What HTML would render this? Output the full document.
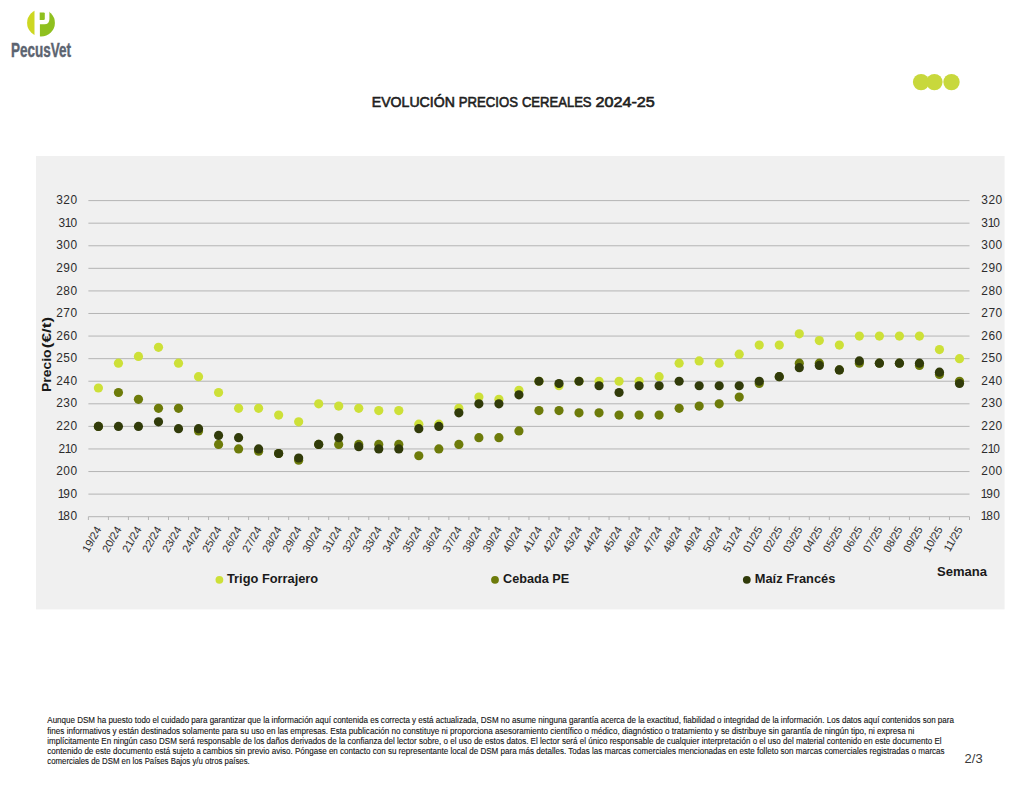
<!DOCTYPE html>
<html lang="es"><head><meta charset="utf-8"><title>Evolución precios cereales 2024-25</title>
<style>
html,body{margin:0;padding:0;background:#fff;}
body{width:1024px;height:791px;overflow:hidden;font-family:"Liberation Sans",sans-serif;}
svg{display:block;font-family:"Liberation Sans",sans-serif;}
</style></head><body>
<svg width="1024" height="791" viewBox="0 0 1024 791">
<rect width="1024" height="791" fill="#ffffff"/>
<g id="logo">
<clipPath id="lc"><ellipse cx="41" cy="22.9" rx="13.9" ry="13.55"/></clipPath>
<g clip-path="url(#lc)">
<rect x="26" y="8" width="8.7" height="30" fill="#cdd722"/>
<rect x="39.7" y="8" width="17" height="30" fill="#8fc01f"/>
</g>
<path d="M34.7 7 H45.2 Q49.4 7 49.4 12.5 V19 Q49.4 24.3 44.4 24.3 H39.7 V38 H34.7 Z" fill="#ffffff"/>
<path d="M39.7 12.4 H43.6 Q44.8 12.4 44.8 13.6 V18.7 Q44.8 19.9 43.6 19.9 H39.7 Z" fill="#8fc01f"/>
<text x="11" y="56.9" font-size="20.6" font-weight="bold" fill="#5c6470" stroke="#5c6470" stroke-width="0.45" textLength="60" lengthAdjust="spacingAndGlyphs">PecusVet</text>
</g>
<g fill="#c8d83c"><circle cx="921.1" cy="82.1" r="8.2"/><circle cx="934.4" cy="82.1" r="8.2"/><circle cx="951.5" cy="82.1" r="8.2"/></g>
<g font-size="14.2" fill="#1f1f1f" stroke="#1f1f1f" stroke-width="0.6">
<text x="371.8" y="106.8" textLength="83.1" lengthAdjust="spacingAndGlyphs">EVOLUCIÓN</text>
<text x="458.8" y="106.8" textLength="59.1" lengthAdjust="spacingAndGlyphs">PRECIOS</text>
<text x="521.9" y="106.8" textLength="69.7" lengthAdjust="spacingAndGlyphs">CEREALES</text>
<text x="595.5" y="106.8" textLength="59.3" lengthAdjust="spacingAndGlyphs">2024-25</text>
</g>
<rect x="36.0" y="156.0" width="968.6" height="453.4" fill="#f0f0f0"/>
<g stroke="#aeaeae" stroke-width="0.9" fill="none">
<line x1="88.4" y1="516.70" x2="969.5" y2="516.70"/>
<line x1="88.4" y1="494.12" x2="969.5" y2="494.12"/>
<line x1="88.4" y1="471.54" x2="969.5" y2="471.54"/>
<line x1="88.4" y1="448.96" x2="969.5" y2="448.96"/>
<line x1="88.4" y1="426.39" x2="969.5" y2="426.39"/>
<line x1="88.4" y1="403.81" x2="969.5" y2="403.81"/>
<line x1="88.4" y1="381.23" x2="969.5" y2="381.23"/>
<line x1="88.4" y1="358.65" x2="969.5" y2="358.65"/>
<line x1="88.4" y1="336.07" x2="969.5" y2="336.07"/>
<line x1="88.4" y1="313.49" x2="969.5" y2="313.49"/>
<line x1="88.4" y1="290.91" x2="969.5" y2="290.91"/>
<line x1="88.4" y1="268.34" x2="969.5" y2="268.34"/>
<line x1="88.4" y1="245.76" x2="969.5" y2="245.76"/>
<line x1="88.4" y1="223.18" x2="969.5" y2="223.18"/>
<line x1="88.4" y1="200.60" x2="969.5" y2="200.60"/>
<line x1="88.40" y1="516.70" x2="88.40" y2="520.00"/>
<line x1="108.43" y1="516.70" x2="108.43" y2="520.00"/>
<line x1="128.45" y1="516.70" x2="128.45" y2="520.00"/>
<line x1="148.48" y1="516.70" x2="148.48" y2="520.00"/>
<line x1="168.50" y1="516.70" x2="168.50" y2="520.00"/>
<line x1="188.53" y1="516.70" x2="188.53" y2="520.00"/>
<line x1="208.55" y1="516.70" x2="208.55" y2="520.00"/>
<line x1="228.58" y1="516.70" x2="228.58" y2="520.00"/>
<line x1="248.60" y1="516.70" x2="248.60" y2="520.00"/>
<line x1="268.62" y1="516.70" x2="268.62" y2="520.00"/>
<line x1="288.65" y1="516.70" x2="288.65" y2="520.00"/>
<line x1="308.68" y1="516.70" x2="308.68" y2="520.00"/>
<line x1="328.70" y1="516.70" x2="328.70" y2="520.00"/>
<line x1="348.73" y1="516.70" x2="348.73" y2="520.00"/>
<line x1="368.75" y1="516.70" x2="368.75" y2="520.00"/>
<line x1="388.78" y1="516.70" x2="388.78" y2="520.00"/>
<line x1="408.80" y1="516.70" x2="408.80" y2="520.00"/>
<line x1="428.83" y1="516.70" x2="428.83" y2="520.00"/>
<line x1="448.85" y1="516.70" x2="448.85" y2="520.00"/>
<line x1="468.88" y1="516.70" x2="468.88" y2="520.00"/>
<line x1="488.90" y1="516.70" x2="488.90" y2="520.00"/>
<line x1="508.93" y1="516.70" x2="508.93" y2="520.00"/>
<line x1="528.95" y1="516.70" x2="528.95" y2="520.00"/>
<line x1="548.98" y1="516.70" x2="548.98" y2="520.00"/>
<line x1="569.00" y1="516.70" x2="569.00" y2="520.00"/>
<line x1="589.03" y1="516.70" x2="589.03" y2="520.00"/>
<line x1="609.05" y1="516.70" x2="609.05" y2="520.00"/>
<line x1="629.08" y1="516.70" x2="629.08" y2="520.00"/>
<line x1="649.10" y1="516.70" x2="649.10" y2="520.00"/>
<line x1="669.12" y1="516.70" x2="669.12" y2="520.00"/>
<line x1="689.15" y1="516.70" x2="689.15" y2="520.00"/>
<line x1="709.18" y1="516.70" x2="709.18" y2="520.00"/>
<line x1="729.20" y1="516.70" x2="729.20" y2="520.00"/>
<line x1="749.23" y1="516.70" x2="749.23" y2="520.00"/>
<line x1="769.25" y1="516.70" x2="769.25" y2="520.00"/>
<line x1="789.28" y1="516.70" x2="789.28" y2="520.00"/>
<line x1="809.30" y1="516.70" x2="809.30" y2="520.00"/>
<line x1="829.33" y1="516.70" x2="829.33" y2="520.00"/>
<line x1="849.35" y1="516.70" x2="849.35" y2="520.00"/>
<line x1="869.38" y1="516.70" x2="869.38" y2="520.00"/>
<line x1="889.40" y1="516.70" x2="889.40" y2="520.00"/>
<line x1="909.43" y1="516.70" x2="909.43" y2="520.00"/>
<line x1="929.45" y1="516.70" x2="929.45" y2="520.00"/>
<line x1="949.48" y1="516.70" x2="949.48" y2="520.00"/>
<line x1="969.50" y1="516.70" x2="969.50" y2="520.00"/>
</g>
<g font-size="11.9" fill="#2c2c2c">
<text x="57.73 63.34 70.44" y="520.35">180</text>
<text x="980.63 986.24 993.34" y="520.35">180</text>
<text x="57.73 63.34 70.44" y="497.77">190</text>
<text x="980.63 986.24 993.34" y="497.77">190</text>
<text x="56.24 63.34 70.44" y="475.19">200</text>
<text x="981.34 988.44 995.54" y="475.19">200</text>
<text x="58.44 64.83 70.44" y="452.61">210</text>
<text x="981.34 987.73 993.34" y="452.61">210</text>
<text x="56.24 63.34 70.44" y="430.04">220</text>
<text x="981.34 988.44 995.54" y="430.04">220</text>
<text x="56.24 63.34 70.44" y="407.46">230</text>
<text x="981.34 988.44 995.54" y="407.46">230</text>
<text x="56.24 63.34 70.44" y="384.88">240</text>
<text x="981.34 988.44 995.54" y="384.88">240</text>
<text x="56.24 63.34 70.44" y="362.30">250</text>
<text x="981.34 988.44 995.54" y="362.30">250</text>
<text x="56.24 63.34 70.44" y="339.72">260</text>
<text x="981.34 988.44 995.54" y="339.72">260</text>
<text x="56.24 63.34 70.44" y="317.14">270</text>
<text x="981.34 988.44 995.54" y="317.14">270</text>
<text x="56.24 63.34 70.44" y="294.56">280</text>
<text x="981.34 988.44 995.54" y="294.56">280</text>
<text x="56.24 63.34 70.44" y="271.99">290</text>
<text x="981.34 988.44 995.54" y="271.99">290</text>
<text x="56.24 63.34 70.44" y="249.41">300</text>
<text x="981.34 988.44 995.54" y="249.41">300</text>
<text x="58.44 64.83 70.44" y="226.83">310</text>
<text x="981.34 987.73 993.34" y="226.83">310</text>
<text x="56.24 63.34 70.44" y="204.25">320</text>
<text x="981.34 988.44 995.54" y="204.25">320</text>
</g>
<g font-size="11.0" fill="#2c2c2c" text-anchor="end">
<text transform="translate(101.91,529.30) rotate(-60)">19/24</text>
<text transform="translate(121.94,529.30) rotate(-60)">20/24</text>
<text transform="translate(141.96,529.30) rotate(-60)">21/24</text>
<text transform="translate(161.99,529.30) rotate(-60)">22/24</text>
<text transform="translate(182.01,529.30) rotate(-60)">23/24</text>
<text transform="translate(202.04,529.30) rotate(-60)">24/24</text>
<text transform="translate(222.06,529.30) rotate(-60)">25/24</text>
<text transform="translate(242.09,529.30) rotate(-60)">26/24</text>
<text transform="translate(262.11,529.30) rotate(-60)">27/24</text>
<text transform="translate(282.14,529.30) rotate(-60)">28/24</text>
<text transform="translate(302.16,529.30) rotate(-60)">29/24</text>
<text transform="translate(322.19,529.30) rotate(-60)">30/24</text>
<text transform="translate(342.21,529.30) rotate(-60)">31/24</text>
<text transform="translate(362.24,529.30) rotate(-60)">32/24</text>
<text transform="translate(382.26,529.30) rotate(-60)">33/24</text>
<text transform="translate(402.29,529.30) rotate(-60)">34/24</text>
<text transform="translate(422.31,529.30) rotate(-60)">35/24</text>
<text transform="translate(442.34,529.30) rotate(-60)">36/24</text>
<text transform="translate(462.36,529.30) rotate(-60)">37/24</text>
<text transform="translate(482.39,529.30) rotate(-60)">38/24</text>
<text transform="translate(502.41,529.30) rotate(-60)">39/24</text>
<text transform="translate(522.44,529.30) rotate(-60)">40/24</text>
<text transform="translate(542.46,529.30) rotate(-60)">41/24</text>
<text transform="translate(562.49,529.30) rotate(-60)">42/24</text>
<text transform="translate(582.51,529.30) rotate(-60)">43/24</text>
<text transform="translate(602.54,529.30) rotate(-60)">44/24</text>
<text transform="translate(622.56,529.30) rotate(-60)">45/24</text>
<text transform="translate(642.59,529.30) rotate(-60)">46/24</text>
<text transform="translate(662.61,529.30) rotate(-60)">47/24</text>
<text transform="translate(682.64,529.30) rotate(-60)">48/24</text>
<text transform="translate(702.66,529.30) rotate(-60)">49/24</text>
<text transform="translate(722.69,529.30) rotate(-60)">50/24</text>
<text transform="translate(742.71,529.30) rotate(-60)">51/24</text>
<text transform="translate(762.74,529.30) rotate(-60)">01/25</text>
<text transform="translate(782.76,529.30) rotate(-60)">02/25</text>
<text transform="translate(802.79,529.30) rotate(-60)">03/25</text>
<text transform="translate(822.81,529.30) rotate(-60)">04/25</text>
<text transform="translate(842.84,529.30) rotate(-60)">05/25</text>
<text transform="translate(862.86,529.30) rotate(-60)">06/25</text>
<text transform="translate(882.89,529.30) rotate(-60)">07/25</text>
<text transform="translate(902.91,529.30) rotate(-60)">08/25</text>
<text transform="translate(922.94,529.30) rotate(-60)">09/25</text>
<text transform="translate(942.96,529.30) rotate(-60)">10/25</text>
<text transform="translate(962.99,529.30) rotate(-60)">11/25</text>
</g>
<g font-size="13" font-weight="bold" fill="#1a1a1a"><text transform="translate(50.9,392) rotate(-90)" textLength="42.6" lengthAdjust="spacingAndGlyphs">Precio</text><text transform="translate(50.9,348.3) rotate(-90)" textLength="31.4" lengthAdjust="spacingAndGlyphs">(€/t)</text></g>
<text x="937" y="575.8" font-size="13" font-weight="bold" fill="#1a1a1a" textLength="50" lengthAdjust="spacingAndGlyphs">Semana</text>
<g fill="#cde038">
<circle cx="98.41" cy="388.00" r="4.6"/>
<circle cx="118.44" cy="363.17" r="4.6"/>
<circle cx="138.46" cy="356.39" r="4.6"/>
<circle cx="158.49" cy="347.36" r="4.6"/>
<circle cx="178.51" cy="363.17" r="4.6"/>
<circle cx="198.54" cy="376.71" r="4.6"/>
<circle cx="218.56" cy="392.52" r="4.6"/>
<circle cx="238.59" cy="408.32" r="4.6"/>
<circle cx="258.61" cy="408.32" r="4.6"/>
<circle cx="278.64" cy="415.10" r="4.6"/>
<circle cx="298.66" cy="421.87" r="4.6"/>
<circle cx="318.69" cy="403.81" r="4.6"/>
<circle cx="338.71" cy="406.06" r="4.6"/>
<circle cx="358.74" cy="408.32" r="4.6"/>
<circle cx="378.76" cy="410.58" r="4.6"/>
<circle cx="398.79" cy="410.58" r="4.6"/>
<circle cx="418.81" cy="424.13" r="4.6"/>
<circle cx="438.84" cy="424.13" r="4.6"/>
<circle cx="458.86" cy="408.32" r="4.6"/>
<circle cx="478.89" cy="397.03" r="4.6"/>
<circle cx="498.91" cy="399.29" r="4.6"/>
<circle cx="518.94" cy="390.26" r="4.6"/>
<circle cx="538.96" cy="381.23" r="4.6"/>
<circle cx="558.99" cy="385.74" r="4.6"/>
<circle cx="579.01" cy="381.23" r="4.6"/>
<circle cx="599.04" cy="381.23" r="4.6"/>
<circle cx="619.06" cy="381.23" r="4.6"/>
<circle cx="639.09" cy="381.23" r="4.6"/>
<circle cx="659.11" cy="376.71" r="4.6"/>
<circle cx="679.14" cy="363.17" r="4.6"/>
<circle cx="699.16" cy="360.91" r="4.6"/>
<circle cx="719.19" cy="363.17" r="4.6"/>
<circle cx="739.21" cy="354.13" r="4.6"/>
<circle cx="759.24" cy="345.10" r="4.6"/>
<circle cx="779.26" cy="345.10" r="4.6"/>
<circle cx="799.29" cy="333.81" r="4.6"/>
<circle cx="819.31" cy="340.59" r="4.6"/>
<circle cx="839.34" cy="345.10" r="4.6"/>
<circle cx="859.36" cy="336.07" r="4.6"/>
<circle cx="879.39" cy="336.07" r="4.6"/>
<circle cx="899.41" cy="336.07" r="4.6"/>
<circle cx="919.44" cy="336.07" r="4.6"/>
<circle cx="939.46" cy="349.62" r="4.6"/>
<circle cx="959.49" cy="358.65" r="4.6"/>
</g>
<g fill="#6d7b0a">
<circle cx="98.41" cy="426.39" r="4.6"/>
<circle cx="118.44" cy="392.52" r="4.6"/>
<circle cx="138.46" cy="399.29" r="4.6"/>
<circle cx="158.49" cy="408.32" r="4.6"/>
<circle cx="178.51" cy="408.32" r="4.6"/>
<circle cx="198.54" cy="430.90" r="4.6"/>
<circle cx="218.56" cy="444.45" r="4.6"/>
<circle cx="238.59" cy="448.96" r="4.6"/>
<circle cx="258.61" cy="451.22" r="4.6"/>
<circle cx="278.64" cy="453.48" r="4.6"/>
<circle cx="298.66" cy="460.25" r="4.6"/>
<circle cx="318.69" cy="444.45" r="4.6"/>
<circle cx="338.71" cy="444.45" r="4.6"/>
<circle cx="358.74" cy="444.45" r="4.6"/>
<circle cx="378.76" cy="444.45" r="4.6"/>
<circle cx="398.79" cy="444.45" r="4.6"/>
<circle cx="418.81" cy="455.74" r="4.6"/>
<circle cx="438.84" cy="448.96" r="4.6"/>
<circle cx="458.86" cy="444.45" r="4.6"/>
<circle cx="478.89" cy="437.68" r="4.6"/>
<circle cx="498.91" cy="437.68" r="4.6"/>
<circle cx="518.94" cy="430.90" r="4.6"/>
<circle cx="538.96" cy="410.58" r="4.6"/>
<circle cx="558.99" cy="410.58" r="4.6"/>
<circle cx="579.01" cy="412.84" r="4.6"/>
<circle cx="599.04" cy="412.84" r="4.6"/>
<circle cx="619.06" cy="415.10" r="4.6"/>
<circle cx="639.09" cy="415.10" r="4.6"/>
<circle cx="659.11" cy="415.10" r="4.6"/>
<circle cx="679.14" cy="408.32" r="4.6"/>
<circle cx="699.16" cy="406.06" r="4.6"/>
<circle cx="719.19" cy="403.81" r="4.6"/>
<circle cx="739.21" cy="397.03" r="4.6"/>
<circle cx="759.24" cy="383.49" r="4.6"/>
<circle cx="779.26" cy="376.71" r="4.6"/>
<circle cx="799.29" cy="363.17" r="4.6"/>
<circle cx="819.31" cy="363.17" r="4.6"/>
<circle cx="839.34" cy="369.94" r="4.6"/>
<circle cx="859.36" cy="363.17" r="4.6"/>
<circle cx="879.39" cy="363.17" r="4.6"/>
<circle cx="899.41" cy="363.17" r="4.6"/>
<circle cx="919.44" cy="365.42" r="4.6"/>
<circle cx="939.46" cy="374.46" r="4.6"/>
<circle cx="959.49" cy="381.23" r="4.6"/>
</g>
<g fill="#313b0a">
<circle cx="98.41" cy="426.39" r="4.6"/>
<circle cx="118.44" cy="426.39" r="4.6"/>
<circle cx="138.46" cy="426.39" r="4.6"/>
<circle cx="158.49" cy="421.87" r="4.6"/>
<circle cx="178.51" cy="428.64" r="4.6"/>
<circle cx="198.54" cy="428.64" r="4.6"/>
<circle cx="218.56" cy="435.42" r="4.6"/>
<circle cx="238.59" cy="437.68" r="4.6"/>
<circle cx="258.61" cy="448.96" r="4.6"/>
<circle cx="278.64" cy="453.48" r="4.6"/>
<circle cx="298.66" cy="458.00" r="4.6"/>
<circle cx="318.69" cy="444.45" r="4.6"/>
<circle cx="338.71" cy="437.68" r="4.6"/>
<circle cx="358.74" cy="446.71" r="4.6"/>
<circle cx="378.76" cy="448.96" r="4.6"/>
<circle cx="398.79" cy="448.96" r="4.6"/>
<circle cx="418.81" cy="428.64" r="4.6"/>
<circle cx="438.84" cy="426.39" r="4.6"/>
<circle cx="458.86" cy="412.84" r="4.6"/>
<circle cx="478.89" cy="403.81" r="4.6"/>
<circle cx="498.91" cy="403.81" r="4.6"/>
<circle cx="518.94" cy="394.78" r="4.6"/>
<circle cx="538.96" cy="381.23" r="4.6"/>
<circle cx="558.99" cy="383.49" r="4.6"/>
<circle cx="579.01" cy="381.23" r="4.6"/>
<circle cx="599.04" cy="385.74" r="4.6"/>
<circle cx="619.06" cy="392.52" r="4.6"/>
<circle cx="639.09" cy="385.74" r="4.6"/>
<circle cx="659.11" cy="385.74" r="4.6"/>
<circle cx="679.14" cy="381.23" r="4.6"/>
<circle cx="699.16" cy="385.74" r="4.6"/>
<circle cx="719.19" cy="385.74" r="4.6"/>
<circle cx="739.21" cy="385.74" r="4.6"/>
<circle cx="759.24" cy="381.23" r="4.6"/>
<circle cx="779.26" cy="376.71" r="4.6"/>
<circle cx="799.29" cy="367.68" r="4.6"/>
<circle cx="819.31" cy="365.42" r="4.6"/>
<circle cx="839.34" cy="369.94" r="4.6"/>
<circle cx="859.36" cy="360.91" r="4.6"/>
<circle cx="879.39" cy="363.17" r="4.6"/>
<circle cx="899.41" cy="363.17" r="4.6"/>
<circle cx="919.44" cy="363.17" r="4.6"/>
<circle cx="939.46" cy="372.20" r="4.6"/>
<circle cx="959.49" cy="383.49" r="4.6"/>
</g>
<g font-size="13" font-weight="bold" fill="#1a1a1a">
<circle cx="219.4" cy="579.8" r="3.9" fill="#cde038"/><text x="227" y="582.7" textLength="91.2" lengthAdjust="spacingAndGlyphs">Trigo Forrajero</text>
<circle cx="495.0" cy="579.8" r="3.9" fill="#6d7b0a"/><text x="503.1" y="582.7" textLength="66.1" lengthAdjust="spacingAndGlyphs">Cebada PE</text>
<circle cx="746.8" cy="579.8" r="3.9" fill="#313b0a"/><text x="754.8" y="582.7" textLength="80.5" lengthAdjust="spacingAndGlyphs">Maíz Francés</text>
</g>
<g font-size="8.5" fill="#141414" stroke="#141414" stroke-width="0.12">
<text x="47.3" y="723.4" textLength="906.6" lengthAdjust="spacingAndGlyphs">Aunque DSM ha puesto todo el cuidado para garantizar que la información aquí contenida es correcta y está actualizada, DSM no asume ninguna garantía acerca de la exactitud, fiabilidad o integridad de la información. Los datos aquí contenidos son para</text>
<text x="47.3" y="733.6" textLength="867.1" lengthAdjust="spacingAndGlyphs">fines informativos y están destinados solamente para su uso en las empresas. Esta publicación no constituye ni proporciona asesoramiento científico o médico, diagnóstico o tratamiento y se distribuye sin garantía de ningún tipo, ni expresa ni</text>
<text x="47.3" y="743.7" textLength="894.3" lengthAdjust="spacingAndGlyphs">implícitamente En ningún caso DSM será responsable de los daños derivados de la confianza del lector sobre, o el uso de estos datos. El lector será el único responsable de cualquier interpretación o el uso del material contenido en este documento El</text>
<text x="47.3" y="753.8" textLength="897.3" lengthAdjust="spacingAndGlyphs">contenido de este documento está sujeto a cambios sin previo aviso. Póngase en contacto con su representante local de DSM para más detalles. Todas las marcas comerciales mencionadas en este folleto son marcas comerciales registradas o marcas</text>
<text x="47.3" y="763.9" textLength="202.5" lengthAdjust="spacingAndGlyphs">comerciales de DSM en los Países Bajos y/u otros países.</text>
</g>
<text x="964.6" y="763.1" font-size="12" fill="#3a3a3a" textLength="18" lengthAdjust="spacingAndGlyphs">2/3</text>
</svg>
</body></html>
